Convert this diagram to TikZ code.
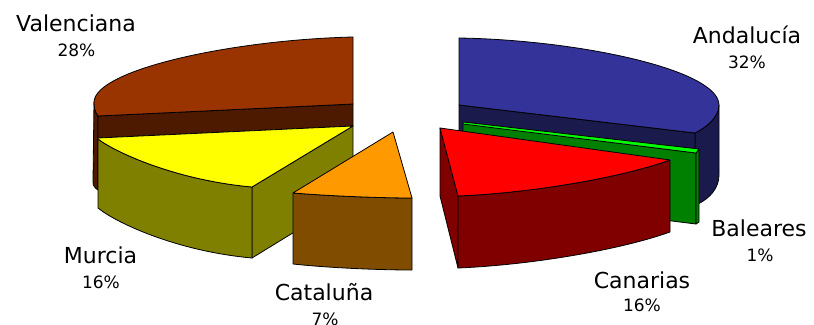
\documentclass[tikz,border=0pt]{standalone}
\usepackage{fontspec}
\setmainfont{DejaVu Sans}
\definecolor{vtop}{RGB}{153,51,0}
\definecolor{vside}{RGB}{77,26,0}
\definecolor{mtop}{RGB}{255,255,0}
\definecolor{mside}{RGB}{128,128,0}
\definecolor{ctop}{RGB}{255,153,0}
\definecolor{cside}{RGB}{128,77,0}
\definecolor{atop}{RGB}{51,51,153}
\definecolor{aside}{RGB}{26,26,77}
\definecolor{btop}{RGB}{0,255,0}
\definecolor{bside}{RGB}{0,128,0}
\definecolor{rtop}{RGB}{255,0,0}
\definecolor{rside}{RGB}{128,0,0}
\begin{document}
\begin{tikzpicture}[x=1pt,y=-1pt,
  face/.style={draw=black,line width=0.8pt,line join=round},
  lbl/.style={font=\fontsize{22}{26}\selectfont,anchor=base,inner sep=0pt},
  pct/.style={font=\fontsize{17}{20}\selectfont,anchor=base,inner sep=0pt}]
\useasboundingbox (0,0) rectangle (814,324);
% ---------- Valenciana ----------
\path[face,fill=vside] (94,102) -- (93,182) .. controls (93,186) and (95,188) .. (98,190) -- (98,116) .. controls (95,112) and (94,107) .. (94,102) -- cycle;
\path[face,fill=vside] (98,116) -- (353,104) -- (353,126) -- (98,138) -- cycle;
\path[face,fill=vtop] (353,37) .. controls (230,40) and (95,70) .. (94,102) .. controls (94,108) and (95,112) .. (98,116) -- (353,104) -- cycle;
% ---------- Murcia ----------
\path[face,fill=mside] (252,187) -- (353,126) -- (353,196) -- (252,258) -- cycle;
\path[face,fill=mside] (98,139) .. controls (115,152) and (175,180) .. (252,187) -- (252,258) .. controls (175,251) and (115,222) .. (98,208) -- cycle;
\path[face,fill=mtop] (98,138) -- (353,126) -- (252,187) .. controls (175,180) and (115,152) .. (98,139) -- cycle;
% ---------- Cataluna ----------
\path[face,fill=cside] (293,193) .. controls (330,196) and (380,198) .. (412,198) -- (412,270) .. controls (380,270) and (330,268) .. (293,264) -- cycle;
\path[face,fill=ctop] (293,193) -- (393,132) -- (412,198) .. controls (380,198) and (330,196) .. (293,193) -- cycle;
% ---------- Andalucia ----------
\path[face,fill=aside] (695,133) .. controls (705,128) and (719,118) .. (719,105) -- (719,175) .. controls (719,188) and (710,198) .. (698,204) -- (695,204) -- cycle;
\path[face,fill=aside] (459,105) -- (695,133) -- (695,200) -- (459,175) -- cycle;
\path[face,fill=atop] (459,38) .. controls (580,40) and (719,70) .. (719,105) .. controls (719,118) and (705,128) .. (695,133) -- (459,105) -- cycle;
% ---------- Baleares ----------
\path[face,fill=bside] (463,123) -- (696,153) -- (696,224) -- (463,195) -- cycle;
\path[face,fill=bside] (696,153) -- (699,149) -- (699,222) -- (696,224) -- cycle;
\path[face,fill=btop] (463,122) -- (699,149) -- (696,153) -- (463,124) -- cycle;
% ---------- Canarias ----------
\path[face,fill=rside] (440,128) -- (458,196) -- (458,268) -- (440,196) -- cycle;
\path[face,fill=rside] (458,196) .. controls (530,193) and (620,178) .. (670,160) -- (670,232) .. controls (620,250) and (530,265) .. (458,268) -- cycle;
\path[face,fill=rtop] (440,128) -- (670,160) .. controls (620,178) and (530,193) .. (458,196) -- cycle;
% ---------- labels ----------
\node[lbl] (valn) at (76,31.7) {Valenciana};
\node[pct] (valp) at (76.5,56) {28\%};
\node[lbl] (andn) at (747,43.5) {Andalucía};
\node[pct] (andp) at (747,68.5) {32\%};
\node[lbl] (baln) at (759,236.7) {Baleares};
\node[pct] (balp) at (760,261.7) {1\%};
\node[lbl] (cann) at (642,288.3) {Canarias};
\node[pct] (canp) at (642,311.7) {16\%};
\node[lbl] (murn) at (100.5,263.3) {Murcia};
\node[pct] (murp) at (101,288.3) {16\%};
\node[lbl] (catn) at (324,300) {Cataluña};
\node[pct] (catp) at (325,325.7) {7\%};
\end{tikzpicture}
\end{document}
